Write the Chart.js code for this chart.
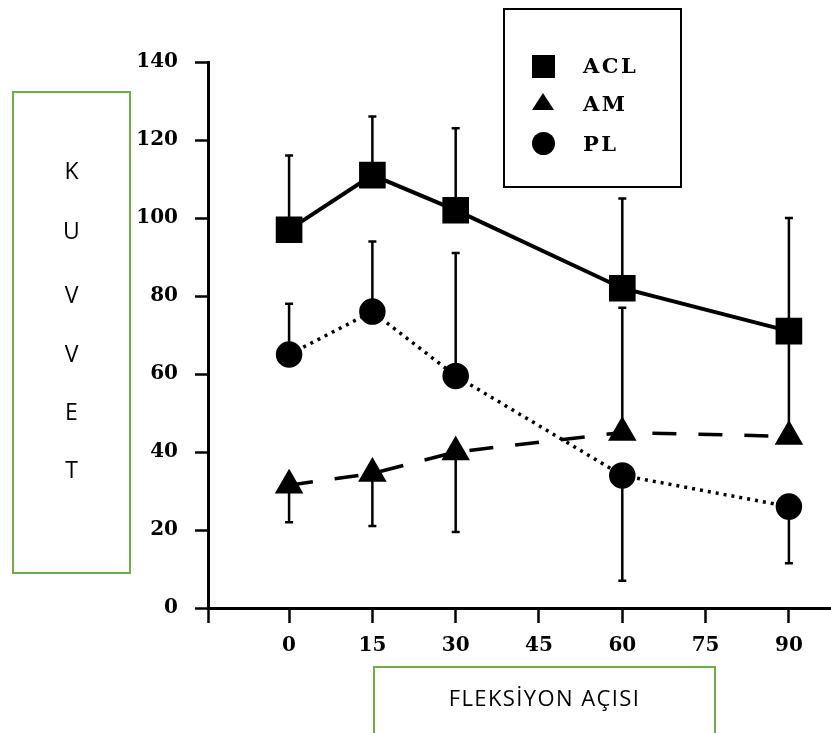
<!DOCTYPE html>
<html>
<head>
<meta charset="utf-8">
<script src="https://cdn.jsdelivr.net/npm/chart.js@4.4.0/dist/chart.umd.min.js"></script>
<style>
    html, body { margin: 0; padding: 0; background: #fff; }
    #wrap { position: relative; width: 831px; height: 733px; overflow: hidden; }
    #chart { position: absolute; left: 0; top: 0; }
    .green-box { position: absolute; border: 2px solid #70ad47; box-sizing: border-box; font-family: 'Open Sans', sans-serif; color: #000; }
    #yTitle { left: 12px; top: 91px; width: 119px; height: 483px; }
    #yTitle span { position: absolute; left: 0; width: 100%; text-align: center; font-size: 23px; line-height: 24px; }
    #xTitle { left: 373px; top: 666px; width: 343px; height: 90px; text-align: center; font-size: 22px; letter-spacing: 1.4px; line-height: 28px; padding-top: 15px; }
    #legend { position: absolute; left: 503px; top: 8px; width: 179px; height: 180px; border: 2.5px solid #000; box-sizing: border-box; }
    #legend .sym { position: absolute; left: 27px; }
    #legend .lbl { position: absolute; left: 78px; font-family: 'DejaVu Serif', serif; font-weight: bold; font-size: 21px; letter-spacing: 2.5px; line-height: 20px; }
    .sq { width: 23px; height: 23px; background: #000; }
    .tri { width: 0; height: 0; border-left: 11.5px solid transparent; border-right: 11.5px solid transparent; border-bottom: 17px solid #000; }
    .dot { width: 23px; height: 23px; border-radius: 50%; background: #000; }
</style>
</head>
<body>
<div id="wrap">
    <canvas id="chart" width="831" height="733"></canvas>

    <div id="legend">
        <div class="sym sq" style="top:45px"></div>
        <div class="lbl" style="top:46px">ACL</div>
        <div class="sym tri" style="top:83px"></div>
        <div class="lbl" style="top:84px">AM</div>
        <div class="sym dot" style="top:122px"></div>
        <div class="lbl" style="top:124px">PL</div>
    </div>

    <div id="yTitle" class="green-box">
        <span style="top:65px">K</span>
        <span style="top:125px">U</span>
        <span style="top:189px">V</span>
        <span style="top:248px">V</span>
        <span style="top:306px">E</span>
        <span style="top:364px">T</span>
    </div>
    <div id="xTitle" class="green-box">FLEKSİYON AÇISI</div>
</div>

<script>
/* =========================================
   DATA
   ========================================= */
const angles = [0, 15, 30, 60, 90];
const xTicks = [0, 15, 30, 45, 60, 75, 90];
const yTicks = [0, 20, 40, 60, 80, 100, 120, 140];

const aclMean = [97, 111, 102, 82, 71];
const aclHigh = [116, 126, 123, 105, 100];
const aclLow  = [null, null, null, null, 43];

const amMean = [31.5, 34.5, 40, 45, 44];
const amHigh = [null, null, null, 77, null];
const amLow  = [22, 21, 19.5, null, null];

const plMean = [65, 76, 59.5, 34, 26];
const plHigh = [78, 94, 91, null, null];
const plLow  = [null, null, null, 7, 11.5];

// axis range (x axis starts left of 0 like the original plot)
const xMin = -14.6;
const xMax = 97.4;

const errorSets = [
    { mean: aclMean, high: aclHigh, low: aclLow },
    { mean: amMean, high: amHigh, low: amLow },
    { mean: plMean, high: plHigh, low: plLow }
];

const toPoints = arr => angles.map((a, i) => ({ x: a, y: arr[i] }));

/* =========================================
   ERROR BAR PLUGIN
   ========================================= */
const errorBars = {
    id: 'errorBars',
    beforeDatasetsDraw(chart) {
        const { ctx, scales: { x, y } } = chart;
        ctx.save();
        ctx.strokeStyle = '#000';
        ctx.lineWidth = 2.5;
        errorSets.forEach(set => {
            angles.forEach((a, i) => {
                const px = x.getPixelForValue(a);
                const py = y.getPixelForValue(set.mean[i]);
                [set.high[i], set.low[i]].forEach(v => {
                    if (v == null) return;
                    const ey = y.getPixelForValue(v);
                    ctx.beginPath();
                    ctx.moveTo(px, py);
                    ctx.lineTo(px, ey);
                    ctx.moveTo(px - 4, ey);
                    ctx.lineTo(px + 4, ey);
                    ctx.stroke();
                });
            });
        });
        ctx.restore();
    }
};

/* =========================================
   CHART
   ========================================= */
const tickFont = { family: "'DejaVu Serif', serif", weight: 'bold', size: 20 };

new Chart(document.getElementById('chart'), {
    type: 'line',
    data: {
        datasets: [
            {
                label: 'ACL',
                data: toPoints(aclMean),
                borderColor: '#000',
                backgroundColor: '#000',
                borderWidth: 4,
                pointStyle: 'rect',
                pointRadius: 16,
                tension: 0
            },
            {
                label: 'AM',
                data: toPoints(amMean),
                borderColor: '#000',
                backgroundColor: '#000',
                borderWidth: 3.5,
                borderDash: [24, 22],
                pointStyle: 'triangle',
                pointRadius: 13,
                tension: 0
            },
            {
                label: 'PL',
                data: toPoints(plMean),
                borderColor: '#000',
                backgroundColor: '#000',
                borderWidth: 3.5,
                borderDash: [3, 5],
                pointStyle: 'circle',
                pointRadius: 11.5,
                tension: 0
            }
        ]
    },
    options: {
        responsive: false,
        animation: false,
        layout: { autoPadding: false, padding: { top: 62, right: 1, left: 0, bottom: 0 } },
        plugins: {
            legend: { display: false },
            tooltip: { enabled: false }
        },
        scales: {
            x: {
                type: 'linear',
                min: xMin,
                max: xMax,
                afterBuildTicks: scale => {
                    scale.ticks = [{ value: xMin }].concat(xTicks.map(v => ({ value: v })));
                },
                afterFit: scale => {
                    scale.height = 125;
                    scale.paddingLeft = 0;
                    scale.paddingRight = 0;
                },
                ticks: {
                    color: '#000',
                    font: tickFont,
                    padding: 11,
                    maxRotation: 0,
                    autoSkip: false,
                    callback: v => (v === xMin ? '' : v)
                },
                grid: { drawOnChartArea: false, tickLength: 15, tickColor: '#000', tickWidth: 2.5 },
                border: { color: '#000', width: 3 }
            },
            y: {
                min: 0,
                max: 140,
                afterBuildTicks: scale => {
                    scale.ticks = yTicks.map(v => ({ value: v }));
                },
                afterFit: scale => { scale.width = 208; },
                ticks: { color: '#000', font: tickFont, padding: 17 },
                grid: { drawOnChartArea: false, tickLength: 13, tickColor: '#000', tickWidth: 2.5 },
                border: { color: '#000', width: 3 }
            }
        }
    },
    plugins: [errorBars]
});
</script>
</body>
</html>
